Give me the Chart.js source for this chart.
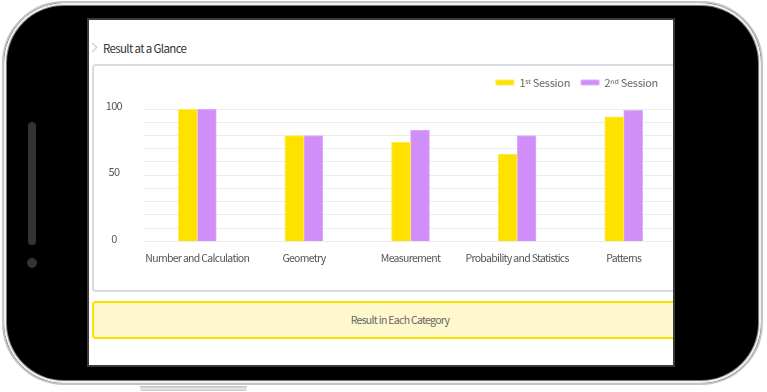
<!DOCTYPE html>
<html>
<head>
<meta charset="utf-8">
<script src="https://cdn.jsdelivr.net/npm/chart.js@4.4.1/dist/chart.umd.min.js"></script>
<style>
  html, body { margin: 0; padding: 0; background: #fff; }
  body { width: 767px; height: 392px; position: relative; overflow: hidden; font-family: "Noto Sans CJK KR", "Noto Sans", sans-serif; }
  .phone {
    position: absolute; left: 2px; top: 1px; width: 757px; height: 380px;
    background: #000; border: 2px solid #c4c4c4; border-radius: 62px;
    box-shadow: inset 0 0 0 2px #f2f2f2, inset 0 0 0 3px #7a7a7a;
  }
  .btn-bottom {
    position: absolute; left: 140px; top: 386px; width: 107px; height: 5px;
    background: linear-gradient(#bdbdbd, #e6e6e6 50%, #c8c8c8); border-radius: 0 0 2px 2px;
  }
  .side-bar { position: absolute; left: 28px; top: 122px; width: 8px; height: 123px; background: #333; border-radius: 4px; }
  .side-dot { position: absolute; left: 27px; top: 258px; width: 10px; height: 10px; background: #333; border-radius: 50%; }
  .screen {
    position: absolute; left: 87px; top: 18px; width: 584px; height: 345px;
    border: 2px solid #3a3a3a; background: #fff; overflow: hidden;
  }
  .chev {
    position: absolute; left: 0px; top: 24px; width: 6px; height: 6px;
    border-top: 1.5px solid #c4c4c4; border-right: 1.5px solid #c4c4c4; transform: rotate(45deg);
  }
  .title { position: absolute; left: 14px; top: 19px; font-size: 11.5px; color: #333; line-height: 18px; letter-spacing: -0.65px; }
  .chart-box {
    position: absolute; left: 3px; top: 44px; width: 612px; height: 224px;
    border: 2px solid #d8dbe4; border-radius: 4px; background: #fff;
  }
  .chart-box canvas { position: absolute; left: 0; top: 0; }
  .cat-btn {
    position: absolute; left: 3px; top: 281px; width: 612px; height: 34px;
    border: 2px solid #ffe100; border-radius: 4px; background: #fff8cc;
    font-size: 10.5px; color: #666; text-align: center; line-height: 34px; letter-spacing: -0.7px;
  }
</style>
</head>
<body>
<div class="phone"></div>
<div class="btn-bottom"></div>
<div class="side-bar"></div>
<div class="side-dot"></div>
<div class="screen">
  <div class="chev"></div>
  <div class="title">Result at a Glance</div>
  <div class="chart-box">
    <canvas id="glanceBar" width="612" height="224" style="width:612px;height:224px"></canvas>
  </div>
  <div class="cat-btn">Result in Each Category</div>
</div>
<script>
// values
const categories = ['Number and Calculation', 'Geometry', 'Measurement', 'Probability and Statistics', 'Patterns'];
const firstSession = [100, 80, 75, 66, 94];
const secondSession = [100, 80, 84, 80, 99];
const sessionLabels = ['1ˢᵗ Session', '2ⁿᵈ Session'];
const yTicksShown = [0, 50, 100];

const fontFamily = '"Noto Sans CJK KR", "Noto Sans", sans-serif';

// tight tracking like the reference text, legend a little looser,
// extra gap under the legend and legend nudged left
const tightText = {
  id: 'tightText',
  afterInit(chart) {
    const legend = chart.legend;
    const fit = legend.fit;
    const draw = legend.draw;
    legend.fit = function () {
      this.ctx.letterSpacing = '-0.3px';
      fit.call(this);
      this.ctx.letterSpacing = '-0.7px';
      this.height += 11;
    };
    legend.draw = function () {
      this.ctx.letterSpacing = '-0.3px';
      this.left -= 8;
      this.right -= 8;
      draw.call(this);
      this.left += 8;
      this.right += 8;
      this.ctx.letterSpacing = '-0.7px';
    };
  },
  beforeUpdate(chart) { chart.ctx.letterSpacing = '-0.7px'; },
  beforeDraw(chart) { chart.ctx.letterSpacing = '-0.7px'; }
};

function initializeChart() {
  new Chart(document.getElementById('glanceBar'), {
    type: 'bar',
    data: {
      labels: categories,
      datasets: [{
        label: sessionLabels[0],
        data: firstSession,
        backgroundColor: '#ffe100',
        borderColor: '#ffeb5c',
        borderWidth: 1,
        barThickness: 19
      }, {
        label: sessionLabels[1],
        data: secondSession,
        backgroundColor: '#cf8ef8',
        borderColor: '#ddb0fb',
        borderWidth: 1,
        barThickness: 19
      }]
    },
    options: {
      responsive: false,
      animation: false,
      layout: { padding: { top: 0, right: 29, bottom: 16, left: 12 } },
      plugins: {
        legend: {
          position: 'top',
          align: 'end',
          labels: {
            boxWidth: 18,
            boxHeight: 5,
            padding: 11,
            color: '#666',
            font: { family: fontFamily, size: 11 }
          }
        },
        tooltip: { enabled: false }
      },
      scales: {
        y: {
          min: 0,
          max: 100,
          border: { display: false },
          grid: { color: '#ececec', drawTicks: false },
          afterFit: scale => { scale.width = 38; },
          ticks: {
            stepSize: 10,
            autoSkip: false,
            padding: 22,
            crossAlign: 'center',
            labelOffset: -3,
            color: '#555',
            font: { family: fontFamily, size: 11 },
            callback: v => yTicksShown.includes(v) ? v : ''
          }
        },
        x: {
          border: { display: false },
          grid: { display: false, drawTicks: false },
          afterFit: scale => { scale.paddingLeft = 0; scale.paddingRight = 0; },
          ticks: {
            padding: 10,
            color: '#555',
            font: { family: fontFamily, size: 10.5 },
            maxRotation: 0,
            autoSkip: false
          }
        }
      }
    },
    plugins: [tightText]
  });
}

initializeChart();
</script>
</body>
</html>
